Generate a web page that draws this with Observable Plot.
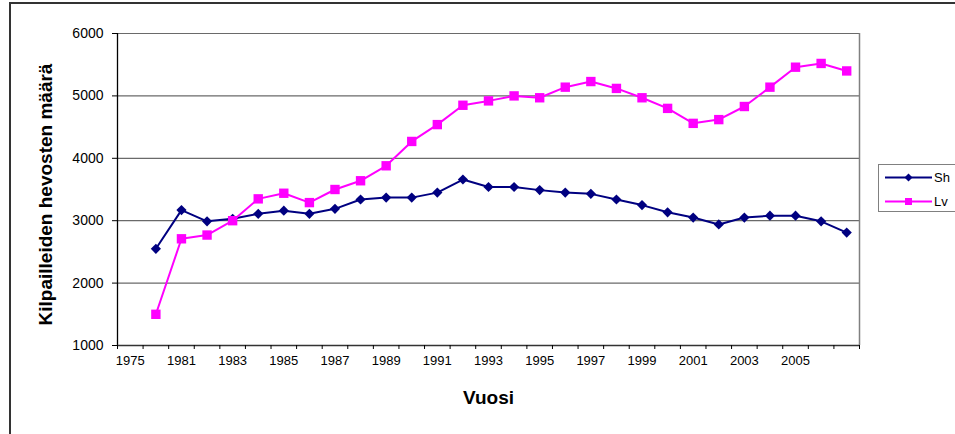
<!DOCTYPE html>
<html>
<head>
<meta charset="utf-8">
<script src="https://cdn.jsdelivr.net/npm/d3@7"></script>
<script src="https://cdn.jsdelivr.net/npm/@observablehq/plot@0.6"></script>
<style>
  body { margin: 0; background: #fff; }
  #wrap { position: relative; width: 955px; height: 434px; overflow: hidden; font-family: "Liberation Sans", Arial, sans-serif; }
  #frame { position: absolute; left: 9px; top: 2px; width: 960px; height: 450px; border-left: 2px solid #333; border-top: 2px solid #333; box-sizing: border-box; pointer-events: none; }
  #legend { position: absolute; left: 878px; top: 164px; width: 90px; height: 48px; border: 1.5px solid #808080; box-sizing: border-box; background: #fff; }
</style>
</head>
<body>
<div id="wrap"><div id="frame"></div></div>
<script>
// Categories (29 slots on the category axis; first slot empty)
const categories = ["1975","1980","1981","1982","1983","1984","1985","1986","1987","1988","1989","1990","1991","1992","1993","1994","1995","1996","1997","1998","1999","2000","2001","2002","2003","2004","2005","2006","2007"];
const tickLabels = ["1975","1981","1983","1985","1987","1989","1991","1993","1995","1997","1999","2001","2003","2005"];
const yTicks = [1000, 2000, 3000, 4000, 5000, 6000];
const seriesNames = ["Sh", "Lv"];
const sh = [null, 2550, 3170, 2990, 3030, 3110, 3160, 3110, 3190, 3340, 3370, 3370, 3450, 3660, 3540, 3540, 3490, 3450, 3430, 3340, 3250, 3135, 3050, 2940, 3050, 3080, 3080, 2990, 2810];
const lv = [null, 1500, 2710, 2770, 3000, 3350, 3440, 3290, 3500, 3640, 3880, 4270, 4540, 4850, 4920, 5000, 4970, 5140, 5230, 5120, 4970, 4800, 4560, 4620, 4830, 5140, 5460, 5520, 5400];

const colors = {Sh: "#000080", Lv: "#FF00FF"};

function rows(values, name) {
  return categories.map((c, i) => ({cat: c, pos: i + 0.5, value: values[i], series: name}))
    .filter(d => d.value != null);
}
const shRows = rows(sh, "Sh");
const lvRows = rows(lv, "Lv");
const boundaries = d3.range(0, categories.length + 1);

const chart = Plot.plot({
  width: 955,
  height: 434,
  marginLeft: 117,
  marginRight: 96,
  marginTop: 33,
  marginBottom: 89,
  x: {type: "linear", domain: [0, categories.length], axis: null},
  y: {domain: [1000, 6000], axis: null},
  style: {fontFamily: "'Liberation Sans', Arial, sans-serif", fontSize: "13px", color: "#000", background: "transparent", overflow: "visible"},
  marks: [
    Plot.ruleY(yTicks.slice(1), {stroke: "#6a6a6a", strokeWidth: 1.2, strokeOpacity: 1}),
    Plot.ruleX([categories.length], {stroke: "#808080", strokeWidth: 1.5}),
    Plot.ruleX([0], {stroke: "#000", strokeWidth: 1.3}),
    Plot.ruleY([1000], {stroke: "#333", strokeWidth: 1.5}),
    Plot.axisX({ticks: boundaries, tickSize: 4, tickFormat: () => "", label: null, stroke: "#000"}),
    Plot.axisY({ticks: yTicks, tickSize: 5, tickPadding: 9, tickFormat: d => String(d), label: null, fontSize: 14, stroke: "#000"}),
    Plot.text(tickLabels, {x: d => categories.indexOf(d) + 0.5, frameAnchor: "bottom", dy: 19, fontSize: 13, fill: "#000"}),
    Plot.line(shRows, {x: "pos", y: "value", stroke: colors.Sh, strokeWidth: 2}),
    Plot.line(lvRows, {x: "pos", y: "value", stroke: colors.Lv, strokeWidth: 2}),
    Plot.dot(shRows, {x: "pos", y: "value", symbol: "diamond2", r: 4.6, fill: colors.Sh, stroke: "none"}),
    Plot.dot(lvRows, {x: "pos", y: "value", symbol: "square", r: 5.3, fill: colors.Lv, stroke: "none"}),
    Plot.text(["Kilpailleiden hevosten määrä"], {frameAnchor: "left", dx: -72, dy: 5, rotate: -90, fontSize: 19, fontWeight: "bold", lineAnchor: "middle", textAnchor: "middle", fill: "#000"}),
    Plot.text(["Vuosi"], {frameAnchor: "bottom", dy: 52, fontSize: 19, fontWeight: "bold", lineAnchor: "middle", fill: "#000"})
  ]
});
chart.style.position = "absolute";
chart.style.left = "0px";
chart.style.top = "0px";
const wrap = document.getElementById("wrap");
wrap.insertBefore(chart, wrap.firstChild);

// Legend
const legend = document.createElement("div");
legend.id = "legend";
const ls = d3.select(legend).append("svg").attr("width", 90).attr("height", 48);
seriesNames.forEach((name, i) => {
  const y = 12.5 + i * 24;
  const g = ls.append("g");
  g.append("line").attr("x1", 6).attr("x2", 53).attr("y1", y).attr("y2", y).attr("stroke", colors[name]).attr("stroke-width", 2);
  if (name === "Sh") {
    g.append("path").attr("d", d3.symbol(d3.symbolDiamond2, 40)()).attr("transform", `translate(29.5,${y})`).attr("fill", colors[name]);
  } else {
    g.append("rect").attr("x", 26).attr("y", y - 3.5).attr("width", 7).attr("height", 7).attr("fill", colors[name]);
  }
  g.append("text").attr("x", 55).attr("y", y).attr("dy", "0.35em").attr("font-size", 13).attr("fill", "#000").text(name);
});
wrap.appendChild(legend);
</script>
</body>
</html>
